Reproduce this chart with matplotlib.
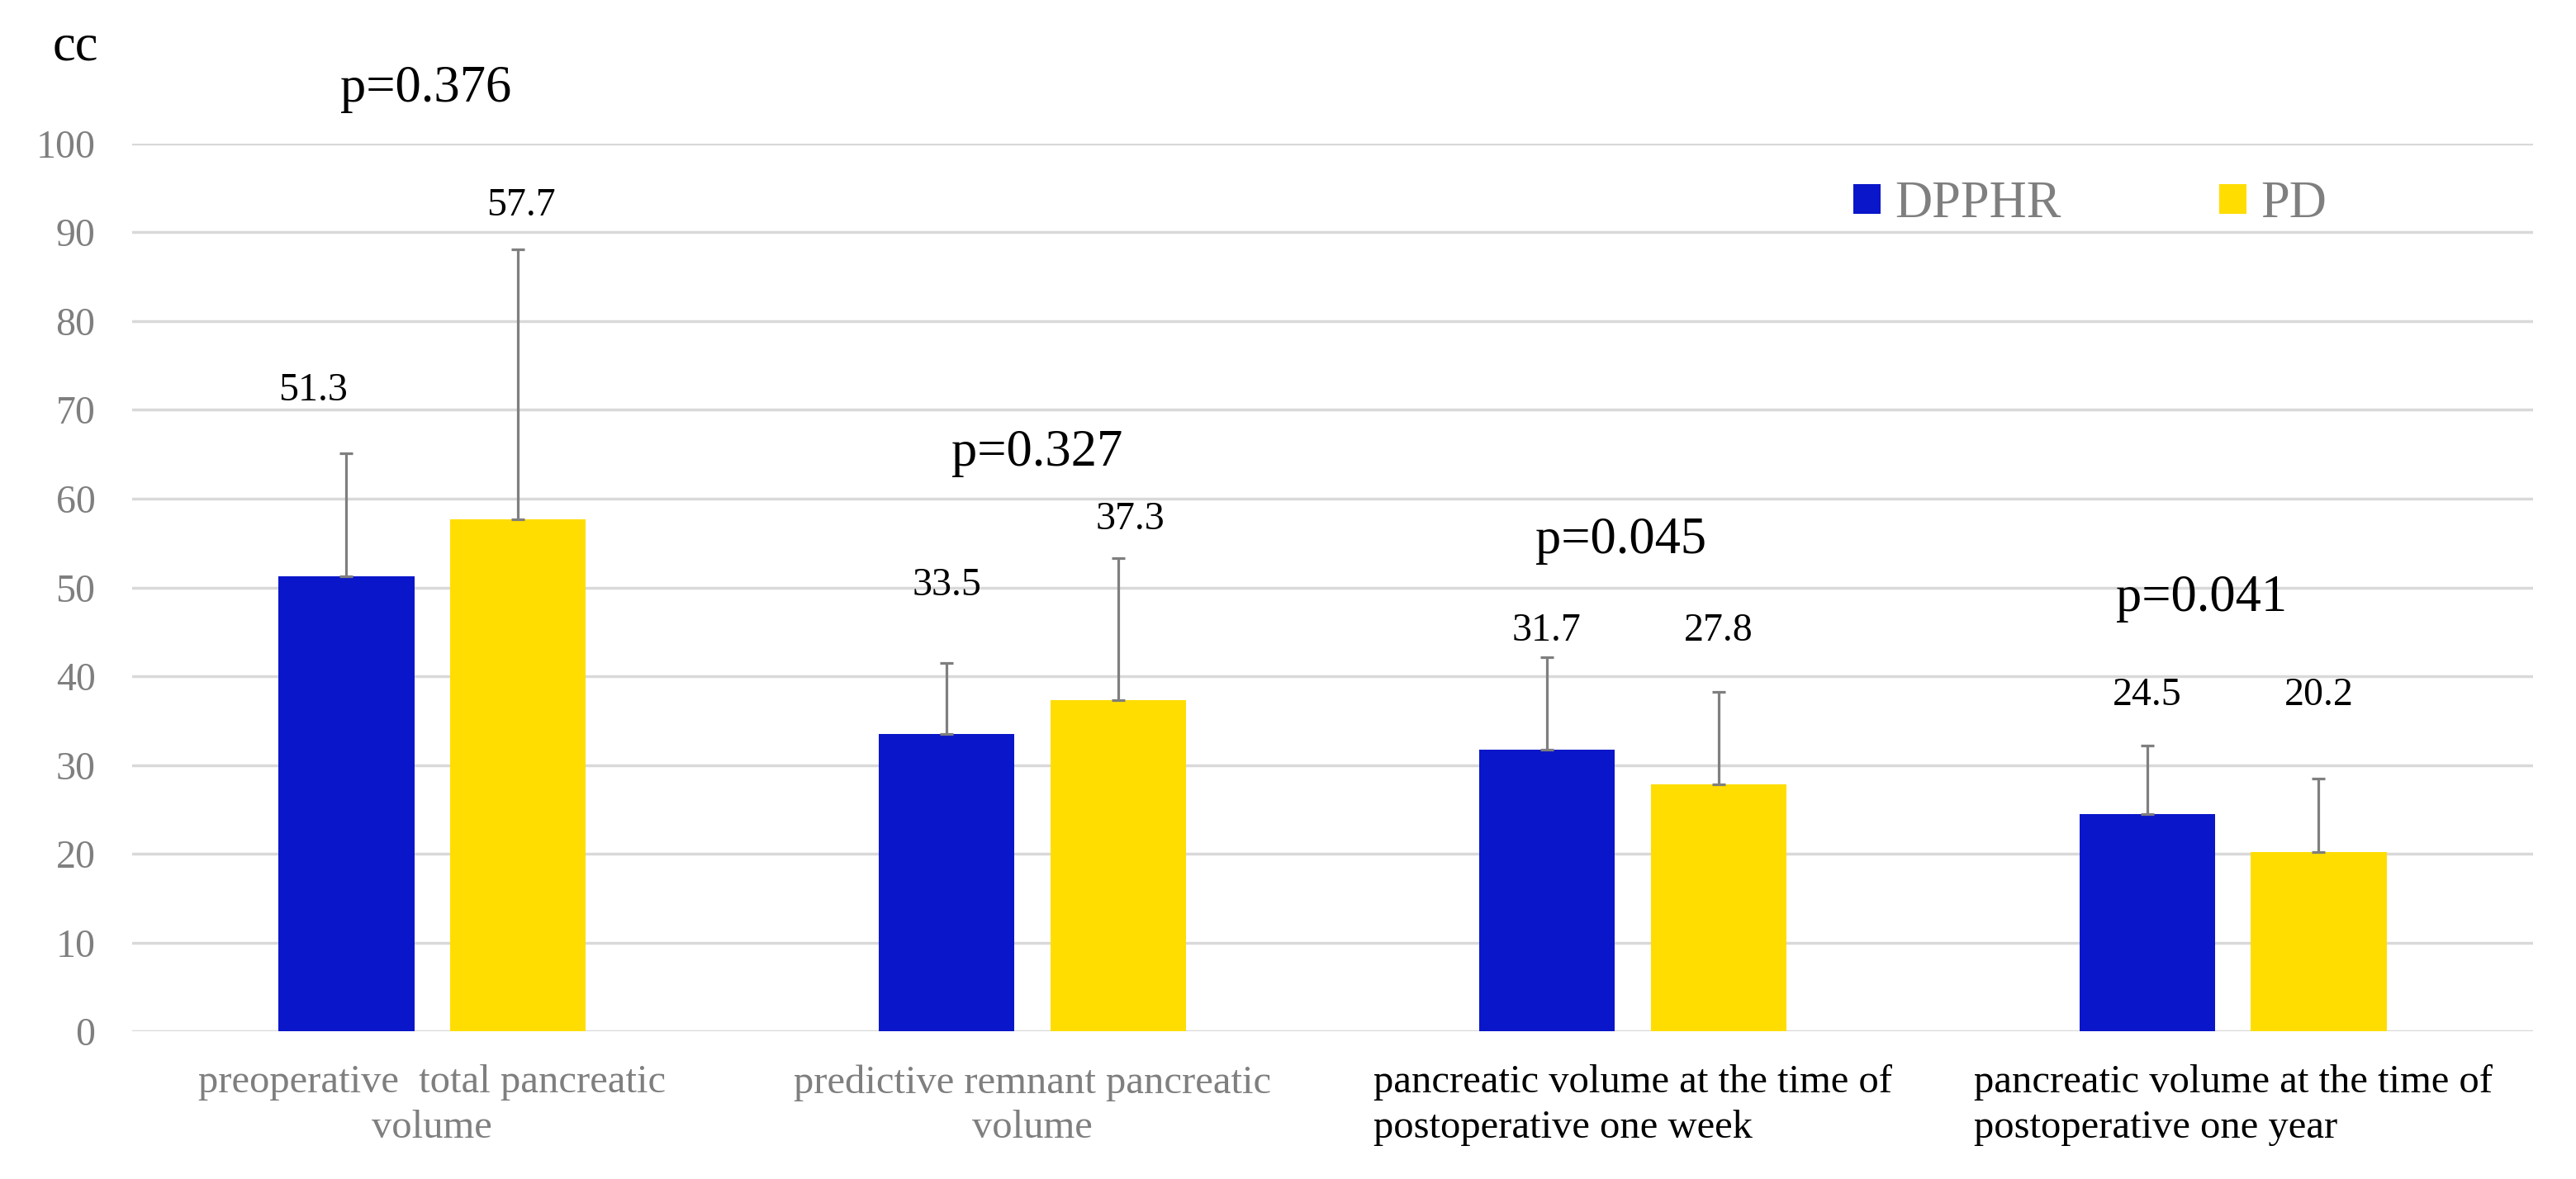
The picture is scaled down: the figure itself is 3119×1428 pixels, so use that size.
import matplotlib
matplotlib.use('Agg')
import matplotlib.pyplot as plt
import numpy as np

plt.rcParams['font.family'] = ['Liberation Serif', 'DejaVu Serif']

# data
categories = ['preoperative  total pancreatic\nvolume',
              'predictive remnant pancreatic\nvolume',
              'pancreatic volume at the time of\npostoperative one week',
              'pancreatic volume at the time of\npostoperative one year']
dpphr = [51.3, 33.5, 31.7, 24.5]
pd_vals = [57.7, 37.3, 27.8, 20.2]
dpphr_sd = [13.8, 8.0, 10.4, 7.7]
pd_sd = [30.4, 16.0, 10.4, 8.3]
p_values = ['p=0.376', 'p=0.327', 'p=0.045', 'p=0.041']

# where the labels sit (manually placed in the original)
dpphr_lab_y = [72.2, 50.2, 45.1, 37.9]
pd_lab_y = [93.0, 57.7, 45.1, 37.9]
dpphr_lab_dx = [-0.055, 0, 0, 0]
pd_lab_dx = [0.005, 0.02, 0, 0]
p_x = [-0.01, 1.008, 1.981, 2.948]
p_y = [106.1, 65.1, 55.3, 48.7]

blue = '#0A16C9'
yellow = '#FFDD00'
grey = '#7F7F7F'

fig = plt.figure(figsize=(31.19, 14.28), dpi=100)
ax = fig.add_axes([0.0513, 0.1253, 0.9320, 0.7529])

x = np.arange(len(categories))
w = 0.226
off = 0.143
err_kw = dict(ecolor=grey, elinewidth=2.3, capsize=5.8, capthick=2.3)

ax.bar(x - off, dpphr, w, color=blue, label='DPPHR',
       yerr=[np.zeros(4), dpphr_sd], error_kw=err_kw, zorder=3)
ax.bar(x + off, pd_vals, w, color=yellow, label='PD',
       yerr=[np.zeros(4), pd_sd], error_kw=err_kw, zorder=3)

for i in range(len(x)):
    ax.text(x[i] - off + dpphr_lab_dx[i], dpphr_lab_y[i], '%.1f' % dpphr[i],
            ha='center', va='center', fontsize=34.5, color='black')
    ax.text(x[i] + off + pd_lab_dx[i], pd_lab_y[i], '%.1f' % pd_vals[i],
            ha='center', va='center', fontsize=34.5, color='black')
    ax.text(p_x[i], p_y[i], p_values[i], ha='center', va='center',
            fontsize=45, color='black', clip_on=False)

ax.text(-0.595, 110.8, 'cc', ha='center', va='center', fontsize=45,
        color='black', clip_on=False)

ax.set_xlim(-0.5, 3.5)
ax.set_ylim(0, 100)
ax.set_yticks(np.arange(0, 101, 10))
ax.yaxis.grid(True, color='#D9D9D9', linewidth=2.5, zorder=0)
ax.set_axisbelow(True)
for s in ax.spines.values():
    s.set_visible(False)

ax.tick_params(axis='y', length=0, pad=32, labelsize=34.5, labelcolor=grey)
ax.tick_params(axis='x', length=0, pad=29, labelsize=35)
ax.set_xticks(x)
ax.set_xticklabels(categories, linespacing=1.3)
tl = ax.get_xticklabels()
for i, t in enumerate(tl):
    if i < 2:
        t.set_color(grey)
        t.set_multialignment('center')
    else:
        t.set_color('black')
        t.set_multialignment('left')

leg = ax.legend(loc='center left', bbox_to_anchor=(0.717, 0.931), ncol=2,
                frameon=False, fontsize=45, handlelength=0.53, handleheight=0.53,
                handletextpad=0.27, columnspacing=3.06, borderpad=0,
                borderaxespad=0)
for t in leg.get_texts():
    t.set_color(grey)

fig.savefig('out.png', dpi=100)
